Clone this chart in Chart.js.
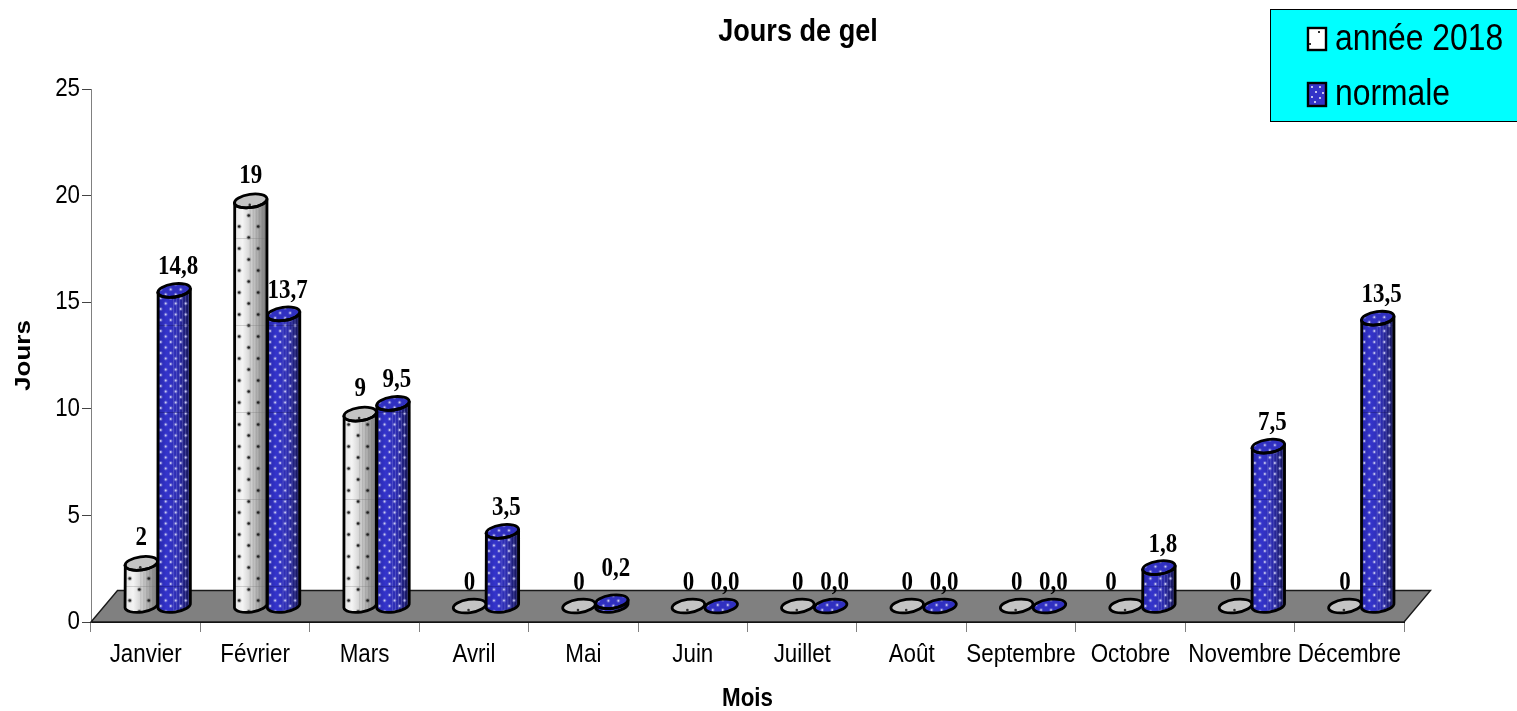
<!DOCTYPE html>
<html><head><meta charset="utf-8">
<style>html,body{margin:0;padding:0;background:#fff}canvas{display:block}</style>
<script src="https://cdn.jsdelivr.net/npm/chart.js@4"></script>
</head><body><canvas id="c" width="1517" height="711"></canvas>
<script>
const categories = ['Janvier','Février','Mars','Avril','Mai','Juin','Juillet','Août','Septembre','Octobre','Novembre','Décembre'];
const annee2018 = [2,19,9,0,0,0,0,0,0,0,0,0];
const normale = [14.8,13.7,9.5,3.5,0.2,0,0,0,0,1.8,7.5,13.5];
const titleText = 'Jours de gel';
const xTitle = 'Mois';
const yTitle = 'Jours';
const yTicks = [0,5,10,15,20,25];

const SANS = '"Liberation Sans",Arial,sans-serif';
const SERIF = '"Liberation Serif","Times New Roman",serif';
const DX = 12, DY = 16, SQUEEZE = 0.86;

const canvas = document.getElementById('c');
const rawCtx = canvas.getContext('2d');
const rawFill = rawCtx.fillText.bind(rawCtx);
// The reference is horizontally compressed as a whole: apply it to every text.
rawCtx.fillText = function(t, x, y, m){
  const tf = rawCtx.getTransform();
  const rotated = Math.abs(tf.b) > 1e-6;
  rawCtx.save();
  rawCtx.translate(x, y);
  if (rotated) rawCtx.scale(1, SQUEEZE); else rawCtx.scale(SQUEEZE, 1);
  rawFill(t, 0, 0);
  rawCtx.restore();
};

function softDot(ctx, x, y, r, core, halo){
  ctx.fillStyle = halo; ctx.beginPath(); ctx.arc(x, y, r+1, 0, 7); ctx.fill();
  ctx.fillStyle = core; ctx.beginPath(); ctx.arc(x, y, r, 0, 7); ctx.fill();
}

function cylinder(ctx, cx, topY, baseY, w, kind){
  const rx = w/2, ry = 6.6, rot = -0.14;
  const blue = kind === 1;
  ctx.save();
  const side = () => {
    ctx.beginPath();
    ctx.ellipse(cx, baseY, rx, ry, rot, 0, Math.PI);
    ctx.lineTo(cx-rx+0.4, topY+2);
    ctx.ellipse(cx, topY, rx, ry, rot, Math.PI, 0, true);
    ctx.closePath();
  };
  if (baseY - topY > 0.5) {
    ctx.save();
    side(); ctx.clip();
    const g = ctx.createLinearGradient(cx-rx,0,cx+rx,0);
    if (blue) {
      g.addColorStop(0,'#2626a8'); g.addColorStop(.28,'#3434cc');
      g.addColorStop(.62,'#2c2cae'); g.addColorStop(1,'#12124e');
    } else {
      g.addColorStop(0,'#e4e4e4'); g.addColorStop(.25,'#f4f4f4');
      g.addColorStop(.6,'#c2c2c2'); g.addColorStop(1,'#787878');
    }
    ctx.fillStyle = g;
    ctx.fillRect(cx-rx-2, topY-12, w+4, baseY-topY+26);
    ctx.fillStyle = blue ? 'rgba(170,170,235,.28)' : 'rgba(80,80,80,.16)';
    for (let x = cx-1; x < cx+rx; x += 3) ctx.fillRect(x, topY-12, 1, baseY-topY+26);
    if (blue) {
      for (let r = 0, y = baseY+6; y > topY-10; y -= 5.5, r++) {
        for (let x = cx-rx + (r%2 ? 3 : 8); x < cx+rx; x += 10) {
          softDot(ctx, x, y, 0.9, '#c8c8ee', 'rgba(150,150,225,.4)');
        }
      }
    } else {
      for (let r = 0, y = baseY+6; y > topY-6; y -= 11, r++) {
        for (let x = cx-2 + (r%2 ? -9.5 : 0); x < cx+rx; x += 19) {
          softDot(ctx, x, y, 1.3, '#202020', 'rgba(70,70,70,.35)');
        }
      }
    }
    // faint seams of the tiled texture
    ctx.fillStyle = blue ? 'rgba(20,20,90,.35)' : 'rgba(120,120,120,.3)';
    for (let y = 151; y < 611; y += 87) ctx.fillRect(cx-rx, y, w, 1);
    ctx.restore();
  }
  ctx.beginPath();
  ctx.ellipse(cx, topY, rx, ry, rot, 0, 7);
  if (blue) {
    ctx.fillStyle = '#3030c0'; ctx.fill();
    ctx.save(); ctx.clip();
    for (let r = 0, y = topY-6; y < topY+7; y += 5, r++)
      for (let x = cx-rx + (r%2 ? 3 : 8); x < cx+rx; x += 10) softDot(ctx, x, y, 0.9, '#c8c8ee', 'rgba(150,150,225,.4)');
    ctx.restore();
  } else {
    ctx.fillStyle = '#c4c4c4'; ctx.fill();
    ctx.fillStyle = '#303030'; ctx.beginPath(); ctx.arc(cx-1, topY+4, 1.3, 0, 7); ctx.fill();
  }
  ctx.strokeStyle = '#000'; ctx.lineWidth = 2.8;
  ctx.beginPath(); ctx.ellipse(cx, topY, rx, ry, rot, 0, 7); ctx.stroke();
  if (baseY - topY > 0.5) { side(); ctx.stroke(); }
  ctx.restore();
}

const scene = {
  id: 'scene',
  afterLayout(chart){
    // title is centred on x=798 in the reference, not on the plot
    chart.titleBlock.left = 2*798 - chart.titleBlock.right;
  },
  beforeDatasetsDraw(chart){
    const {ctx, chartArea:a} = chart;
    ctx.save();
    ctx.beginPath();
    ctx.moveTo(a.left,a.bottom); ctx.lineTo(a.left+26.5,a.bottom-31.5);
    ctx.lineTo(a.right+26.5,a.bottom-31.5); ctx.lineTo(a.right,a.bottom); ctx.closePath();
    ctx.fillStyle = '#808080'; ctx.fill();
    ctx.strokeStyle = '#1a1a1a'; ctx.lineWidth = 1.4; ctx.stroke();
    ctx.restore();
  },
  beforeDatasetDraw(chart, args){
    const ctx = chart.ctx;
    args.meta.data.forEach(el => {
      cylinder(ctx, el.x+DX, el.y-DY, el.base-DY, el.width, args.index);
    });
    return false;
  },
  afterDraw(chart){
    const ctx = chart.ctx;
    ctx.save();
    ctx.fillStyle = '#000'; ctx.textAlign = 'center'; ctx.textBaseline = 'middle';
    ctx.font = 'bold 26.7px '+SERIF;
    chart.data.datasets.forEach((ds,i) => {
      chart.getDatasetMeta(i).data.forEach((el,j) => {
        const v = ds.data[j];
        const t = i === 0 ? String(v) : v.toFixed(1).replace('.',',');
        const nudgeX = (i === 0 && j === 9) ? -15 : 0;
        const nudgeY = (i === 1 && j === 4) ? -10 : 0;
        ctx.fillText(t, el.x+DX+(i ? 4 : 0)+nudgeX, el.y-DY-(i===0 && v>0 ? 25 : 23)+nudgeY);
      });
    });
    // legend box
    const names = chart.data.datasets.map(d => d.label);
    ctx.fillStyle = '#00ffff'; ctx.fillRect(1270.5,9.5,260,112);
    ctx.strokeStyle = '#000'; ctx.lineWidth = 1; ctx.strokeRect(1270.5,9.5,260,112);
    ctx.textAlign = 'left'; ctx.font = '37px '+SANS;
    ctx.fillStyle = '#000';
    ctx.fillText(names[0], 1335, 40);
    ctx.fillText(names[1], 1335, 95);
    ctx.lineWidth = 2.4;
    ctx.fillStyle = '#fff'; ctx.fillRect(1308,28,18,22); ctx.strokeRect(1308,28,18,22);
    ctx.fillStyle = '#303030'; ctx.fillRect(1318,31,2,2); ctx.fillRect(1309,43,2,2);
    ctx.fillStyle = '#3434c8'; ctx.fillRect(1308,83,18,23); ctx.strokeRect(1308,83,18,23);
    ctx.fillStyle = '#c4c4ee';
    [[1311,86],[1319,86],[1315,91],[1322,92],[1311,96],[1319,97],[1314,101]].forEach(p => ctx.fillRect(p[0],p[1],2,2));
    ctx.restore();
  }
};

new Chart(canvas, {
  type: 'bar',
  plugins: [scene],
  data: { labels: categories, datasets: [
    { label:'année 2018', data: annee2018, backgroundColor:'#e8e8e8', borderColor:'#000', categoryPercentage:.6, barPercentage:1 },
    { label:'normale', data: normale, backgroundColor:'#3434c8', borderColor:'#000', categoryPercentage:.6, barPercentage:1 }
  ]},
  options: {
    responsive:false, animation:false, devicePixelRatio:1,
    layout:{padding:{left:8,right:113,top:0,bottom:0}},
    plugins:{
      legend:{display:false}, tooltip:{enabled:false},
      title:{display:true,text:titleText,color:'#000',
        font:{family:SANS,size:31.5,weight:'bold',lineHeight:1.2},
        padding:{top:13,bottom:38.2}}
    },
    scales:{
      x:{
        afterFit(s){ s.height = 89; },
        grid:{display:true,drawOnChartArea:false,drawTicks:true,tickLength:10,color:'#808080',offset:true},
        border:{display:true,color:'#000'},
        ticks:{color:'#000',font:{family:SANS,size:26},maxRotation:0,minRotation:0,autoSkip:false,padding:7},
        title:{display:true,text:xTitle,color:'#000',font:{family:SANS,size:26,weight:'bold',lineHeight:0.9},padding:{top:4,bottom:0}}
      },
      y:{
        min:0,max:25,
        afterFit(s){ s.width = 83; },
        afterBuildTicks(s){ s.ticks = yTicks.map(v => ({value:v})); },
        grid:{display:true,drawOnChartArea:false,drawTicks:true,tickLength:9,color:'#444'},
        border:{display:true,color:'#808080'},
        ticks:{color:'#000',font:{family:SANS,size:26},padding:2},
        title:{display:true,text:yTitle,color:'#000',font:{family:SANS,size:26,weight:'bold'},padding:{top:0,bottom:4}}
      }
    }
  }
});
</script></body></html>
